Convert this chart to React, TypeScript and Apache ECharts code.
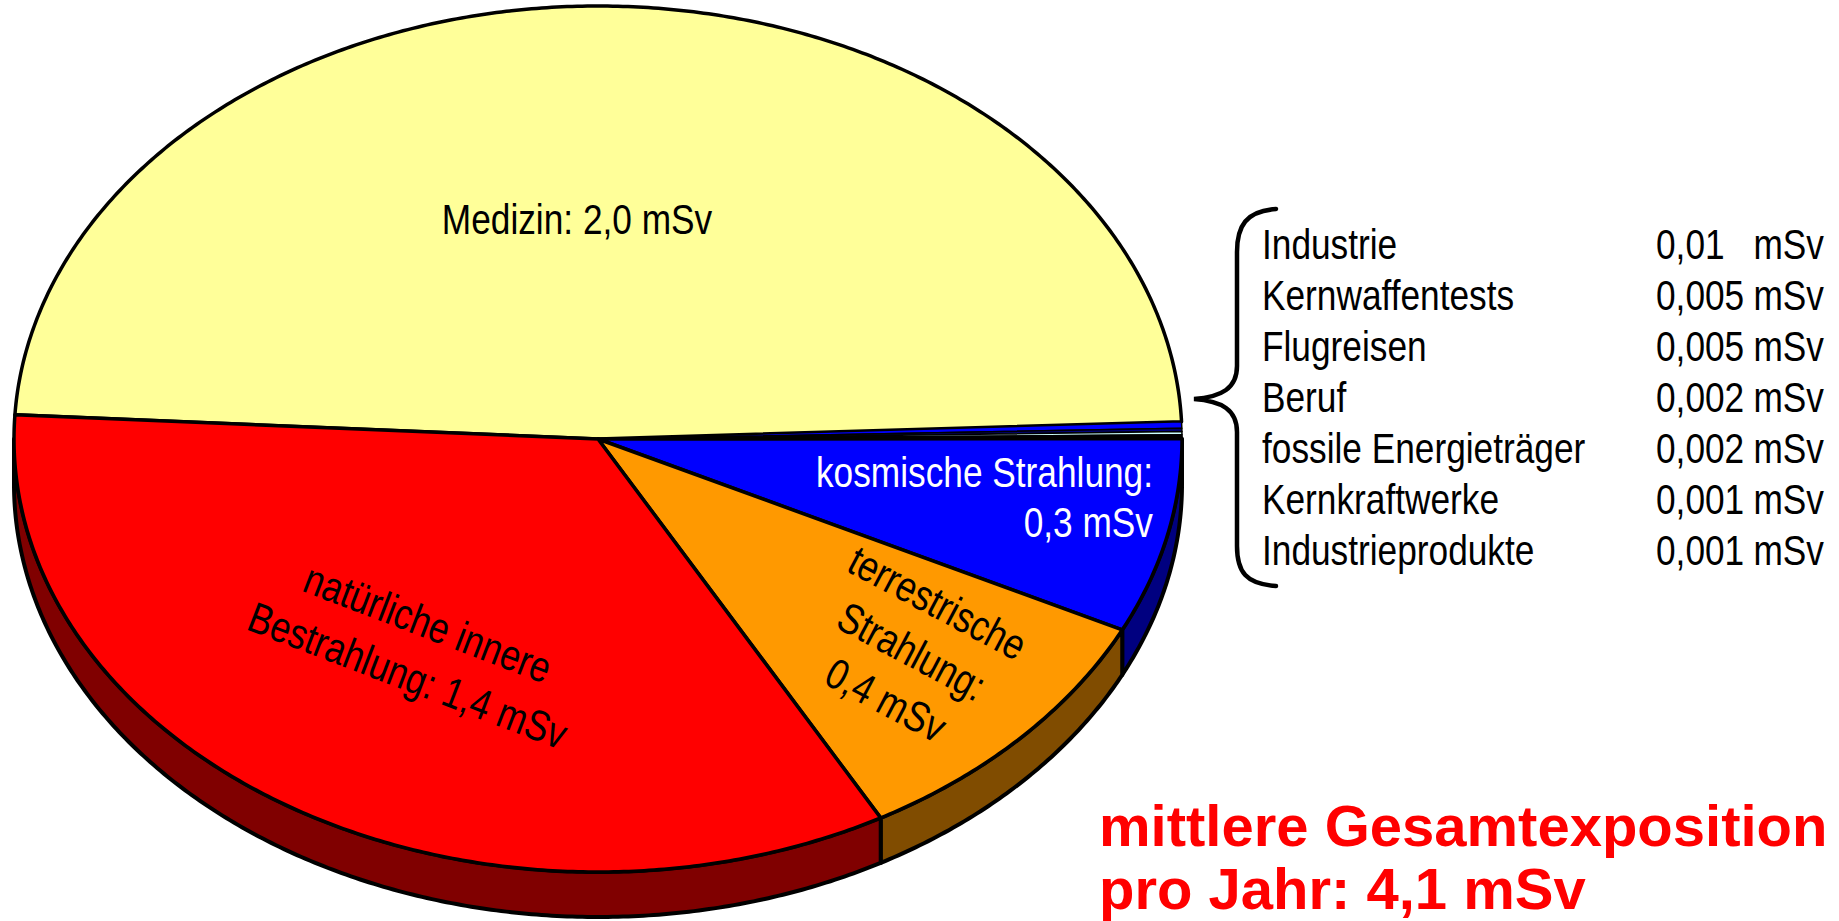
import React, { useEffect, useRef } from 'react';
import * as echarts from 'echarts';

// ---------- data ----------
const CATEGORIES = [
  'Medizin',
  'Industrie',
  'Kernwaffentests',
  'Flugreisen',
  'Beruf',
  'fossile Energieträger',
  'Kernkraftwerke',
  'Industrieprodukte',
  'kosmische Strahlung',
  'terrestrische Strahlung',
  'natürliche innere Bestrahlung',
];
const VALUES = [2.0, 0.01, 0.005, 0.005, 0.002, 0.002, 0.001, 0.001, 0.3, 0.4, 1.4];
const SMALL_NAMES = CATEGORIES.slice(1, 8);
const SMALL_VALUES = VALUES.slice(1, 8);
const UNIT = 'mSv';
const TITLE_LINES = ['mittlere Gesamtexposition', 'pro Jahr: 4,1 mSv'];

// ---------- styles ----------
const TOP_COLORS = ['#ffff99', '#0000ff', '#000080', '#ccffff', '#000080', '#0000ff', '#000000', '#000080', '#0000ff', '#ff9900', '#ff0000'];
const SIDE_COLORS = ['#808040', '#000080', '#000080', '#000080', '#000080', '#000080', '#000080', '#000080', '#000080', '#804c00', '#800000'];

const CX = 598;
const CY = 439;
const RX = 584;
const RY = 433;
const DEPTH = 45;
const START = 183.2; // screen degrees, clockwise from 3 o'clock
const FONT = "'Liberation Sans', Arial, sans-serif";
const NARROW_SCALE = 0.82;
const LABEL_SIZE = 43;

const fmt = (v: number | string) => String(v).replace('.', ',');

const PIE_LABELS = [
  { text: 'Medizin: ' + fmt(VALUES[0].toFixed(1)) + ' ' + UNIT, x: 577, y: 219, rot: 0, align: 'center', color: '#000', lh: 50 },
  { text: 'kosmische Strahlung:\n' + fmt(VALUES[8]) + ' ' + UNIT, x: 1153, y: 497, rot: 0, align: 'right', color: '#fff', lh: 50 },
  { text: 'terrestrische\nStrahlung:\n' + fmt(VALUES[9]) + ' ' + UNIT, x: 912, y: 651, rot: -28, align: 'center', color: '#000', lh: 55 },
  { text: 'natürliche innere\nBestrahlung: ' + fmt(VALUES[10]) + ' ' + UNIT, x: 418, y: 649, rot: -21, align: 'center', color: '#000', lh: 56 },
];

const BRACE_D =
  'M1276,209 C1246,211 1237,226 1237,252 L1237,366 C1237,388 1222,397 1194,399 C1222,401 1237,410 1237,432 L1237,546 C1237,572 1246,584 1276,586';

echarts.graphic.registerShape('brace', echarts.graphic.extendPath(BRACE_D, {}) as any);

const total = VALUES.reduce((s, v) => s + v, 0);
const cum: number[] = [];
{
  let acc = 0;
  VALUES.forEach((v) => {
    cum.push(acc);
    acc += v;
  });
}

function pt(t: number, dy = 0): number[] {
  const r = (t * Math.PI) / 180;
  return [CX + RX * Math.cos(r), CY + RY * Math.sin(r) + dy];
}
function arc(t1: number, t2: number, dy = 0): number[][] {
  const n = Math.max(2, Math.ceil(Math.abs(t2 - t1) / 0.5) + 1);
  const pts: number[][] = [];
  for (let i = 0; i < n; i++) pts.push(pt(t1 + ((t2 - t1) * i) / (n - 1), dy));
  return pts;
}

function narrowText(text: string, x: number, y: number, align: string, extra: any = {}) {
  return {
    type: 'text',
    x,
    y,
    scaleX: NARROW_SCALE,
    scaleY: 1,
    z: 10,
    ...extra,
    style: {
      text,
      fill: '#000',
      fontSize: LABEL_SIZE,
      fontFamily: FONT,
      align,
      textAlign: align,
      verticalAlign: 'middle',
      textVerticalAlign: 'middle',
      ...(extra.style || {}),
    },
  };
}

export default function App() {
  const ref = useRef<HTMLDivElement>(null);
  useEffect(() => {
    if (!ref.current) return;
    const chart = echarts.init(ref.current, null, { renderer: 'svg' });

    const renderItem = (params: any, api: any) => {
      const i = params.dataIndex;
      const v = api.value(0) as number;
      const t1 = START + (cum[i] / total) * 360;
      const t2 = t1 + (v / total) * 360;
      const children: any[] = [];
      const a = ((t1 % 360) + 360) % 360;
      const b = a + (t2 - t1);
      for (const [lo, hi] of [
        [0, 180],
        [360, 540],
      ]) {
        const s = Math.max(a, lo);
        const e = Math.min(b, hi);
        if (e > s) {
          children.push({
            type: 'polygon',
            z2: 1,
            shape: { points: arc(s, e).concat(arc(e, s, DEPTH)) },
            style: { fill: SIDE_COLORS[i], stroke: '#000', lineWidth: 4, lineJoin: 'round' },
          });
        }
      }
      const small = v < 0.05;
      children.push({
        type: 'polygon',
        z2: 2,
        shape: { points: [[CX, CY]].concat(arc(t1, t2)) },
        style: { fill: TOP_COLORS[i], stroke: '#000', lineWidth: small ? 1.5 : 3.5, lineJoin: 'round' },
      });
      return { type: 'group', children };
    };

    const graphics: any[] = [];
    PIE_LABELS.forEach((l) => {
      graphics.push(
        narrowText(l.text, l.x, l.y, l.align, {
          rotation: (l.rot * Math.PI) / 180,
          style: { fill: l.color, lineHeight: l.lh },
        })
      );
    });
    SMALL_NAMES.forEach((n, k) => {
      const y = 244 + k * 51;
      graphics.push(narrowText(n, 1262, y, 'left'));
      graphics.push(narrowText(fmt(SMALL_VALUES[k]), 1656, y, 'left'));
      graphics.push(narrowText(UNIT, 1824, y, 'right'));
    });
    graphics.push({
      type: 'brace',
      x: 0,
      y: 0,
      style: { fill: 'none', stroke: '#000', lineWidth: 4.5, lineCap: 'round' },
    });
    TITLE_LINES.forEach((t, k) => {
      graphics.push({
        type: 'text',
        x: 1099,
        y: 825 + k * 63,
        style: {
          text: t,
          fill: '#ff0000',
          fontSize: 58,
          fontWeight: 'bold',
          fontFamily: FONT,
          align: 'left',
          textAlign: 'left',
          verticalAlign: 'middle',
          textVerticalAlign: 'middle',
        },
      });
    });

    chart.setOption({
      animation: false,
      backgroundColor: '#ffffff',
      series: [
        {
          type: 'custom',
          coordinateSystem: 'none',
          silent: true,
          renderItem,
          data: VALUES.map((v, i) => ({ name: CATEGORIES[i], value: [v] })),
        },
      ],
      graphic: { elements: graphics },
    });
    return () => chart.dispose();
  }, []);
  return <div ref={ref} style={{ position: 'fixed', left: 0, top: 0, width: 1839, height: 921 }} />;
}
